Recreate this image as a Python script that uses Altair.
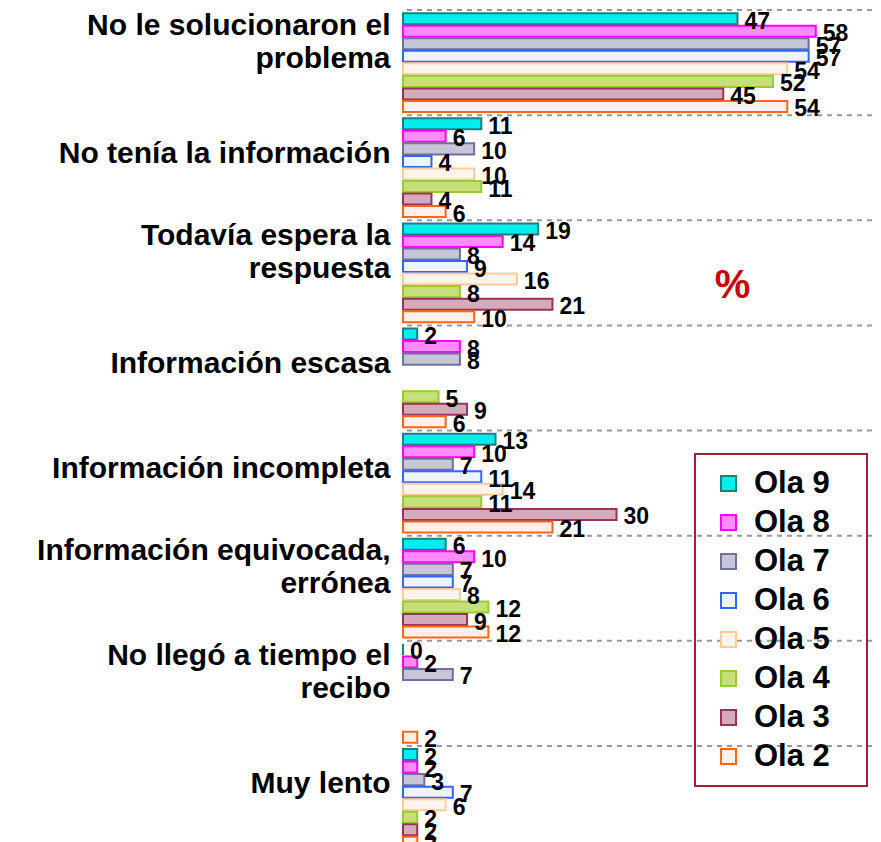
import altair as alt
import pandas as pd

FONT = "Liberation Sans"

CATEGORIES = [
    "No le solucionaron el\nproblema",
    "No tenía la información",
    "Todavía espera la\nrespuesta",
    "Información escasa",
    "Información incompleta",
    "Información equivocada,\nerrónea",
    "No llegó a tiempo el\nrecibo",
    "Muy lento",
]
SERIES = ["Ola 9", "Ola 8", "Ola 7", "Ola 6", "Ola 5", "Ola 4", "Ola 3", "Ola 2"]

OLA_9 = [47, 11, 19, 2, 13, 6, 0, 2]
OLA_8 = [58, 6, 14, 8, 10, 10, 2, 2]
OLA_7 = [57, 10, 8, 8, 7, 7, 7, 3]
OLA_6 = [57, 4, 9, None, 11, 7, None, 7]
OLA_5 = [54, 10, 16, None, 14, 8, None, 6]
OLA_4 = [52, 11, 8, 5, 11, 12, None, 2]
OLA_3 = [45, 4, 21, 9, 30, 9, None, 2]
OLA_2 = [54, 6, 10, 6, 21, 12, 2, 2]

FILLS = ["#00eeee", "#ff8cff", "#c6c6d6", "#eef3ff", "#fff4ec", "#c6df78", "#d4abbc", "#fff0ec"]
STROKES = ["#1f7f7f", "#ff00ff", "#70709c", "#3366ff", "#ffcc99", "#99cc33", "#993357", "#ff6614"]

ALL = [OLA_9, OLA_8, OLA_7, OLA_6, OLA_5, OLA_4, OLA_3, OLA_2]
rows = []
for s, vals in zip(SERIES, ALL):
    for c, v in zip(CATEGORIES, vals):
        if v is not None:
            rows.append({"category": c, "series": s, "value": v})
df = pd.DataFrame(rows)
cat_df = pd.DataFrame({"category": CATEGORIES})

XMAX = 65.9
W, H = 469, 841

x_enc = alt.X("value:Q", scale=alt.Scale(domain=[0, XMAX], nice=False, zero=True), axis=None)
y_axis = alt.Axis(
    title=None, ticks=False, domain=False, grid=False,
    labelFontSize=30, labelFontWeight="bold", labelFont=FONT, labelColor="black",
    labelPadding=13, labelLimit=500, labelLineHeight=33,
    labelOffset={"condition": {"test": "indexof(datum.value, '\\n') >= 0", "value": -37}, "value": -14},
    labelExpr="split(datum.label, '\\n')",
)
y_enc = alt.Y("category:N", sort=CATEGORIES,
              scale=alt.Scale(domain=CATEGORIES, paddingInner=0, paddingOuter=0), axis=y_axis)
yoff = alt.YOffset("series:N", sort=SERIES,
                   scale=alt.Scale(domain=SERIES, paddingInner=0.12, paddingOuter=0.25))

BLANK = "\u2800"
legend = alt.Legend(
    title=None, orient="none", legendX=292, legendY=444,
    padding=14, strokeColor="#a0203a", symbolType="square", symbolSize=225,
    symbolStrokeWidth=2, symbolOffset=4, labelFontSize=31, labelFont=FONT,
    labelFontWeight="bold", labelColor="black", labelOffset=10, rowPadding=7,
    labelExpr="datum.label + '" + BLANK + "'",
)

bars = alt.Chart(df).mark_bar(strokeWidth=2).encode(
    x=x_enc,
    y=y_enc,
    yOffset=yoff,
    fill=alt.Fill("series:N", sort=SERIES, scale=alt.Scale(domain=SERIES, range=FILLS), legend=legend),
    stroke=alt.Stroke("series:N", sort=SERIES, scale=alt.Scale(domain=SERIES, range=STROKES), legend=legend),
)

labels = alt.Chart(df).mark_text(
    align="left", baseline="middle", dx=7, dy=3, fontSize=23, fontWeight="bold", font=FONT, color="black"
).encode(
    x="value:Q",
    y=alt.Y("category:N", sort=CATEGORIES),
    yOffset=alt.YOffset("series:N", sort=SERIES),
    text="value:Q",
)

grid = alt.Chart(cat_df).mark_rule(strokeDash=[5, 5], color="#999999", strokeWidth=2).encode(
    y=alt.Y("category:N", sort=CATEGORIES, bandPosition=0)
)

pct = alt.Chart(pd.DataFrame({"t": ["%"]})).mark_text(
    fontSize=40, fontWeight="bold", font=FONT, color="#cc0000", dy=13
).encode(
    x=alt.datum(46.3),
    y=alt.datum(CATEGORIES[2]),
    text="t:N",
)

chart = alt.layer(grid, bars, labels, pct).properties(
    width=W, height=H,
    autosize=alt.AutoSizeParams(type="none"),
    padding={"left": 395, "top": 2, "right": 0, "bottom": 0},
).configure_view(stroke=None).configure_legend(strokeWidth=2)

chart.save("out.html", embed_options={"renderer": "svg", "actions": False})
